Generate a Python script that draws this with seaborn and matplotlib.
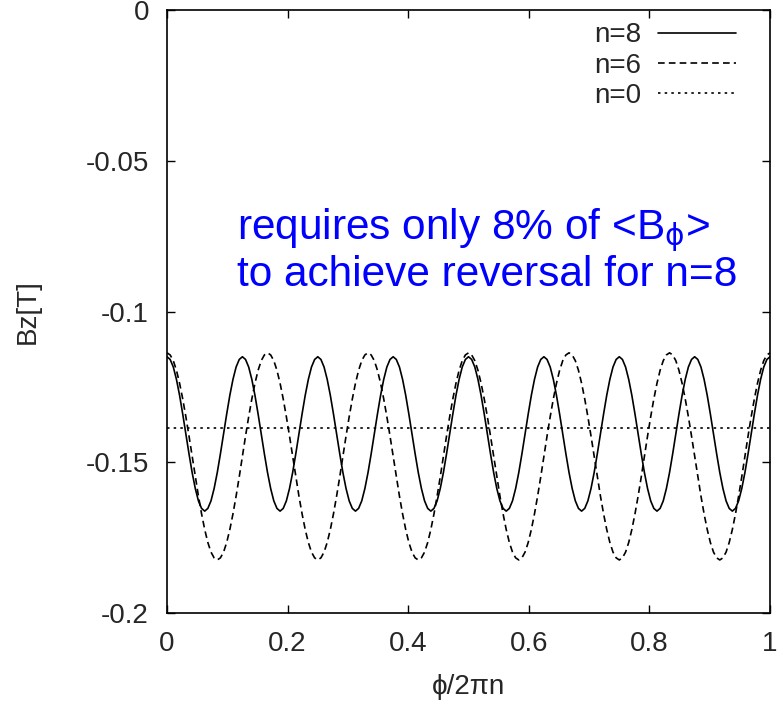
import matplotlib
matplotlib.use('agg')

import numpy as np
import pandas as pd
import matplotlib.pyplot as plt
import matplotlib.transforms as trans
import seaborn as sns

bz_n8 = [
    -0.1150, -0.1159, -0.1184, -0.1225, -0.1278, -0.1340, -0.1406, -0.1472, -0.1534, -0.1587, -0.1628, -0.1653,
    -0.1662, -0.1653, -0.1628, -0.1587, -0.1534, -0.1472, -0.1406, -0.1340, -0.1278, -0.1225, -0.1184, -0.1159,
    -0.1150, -0.1159, -0.1184, -0.1225, -0.1278, -0.1340, -0.1406, -0.1472, -0.1534, -0.1587, -0.1628, -0.1653,
    -0.1662, -0.1653, -0.1628, -0.1587, -0.1534, -0.1472, -0.1406, -0.1340, -0.1278, -0.1225, -0.1184, -0.1159,
    -0.1150, -0.1159, -0.1184, -0.1225, -0.1278, -0.1340, -0.1406, -0.1472, -0.1534, -0.1587, -0.1628, -0.1653,
    -0.1662, -0.1653, -0.1628, -0.1587, -0.1534, -0.1472, -0.1406, -0.1340, -0.1278, -0.1225, -0.1184, -0.1159,
    -0.1150, -0.1159, -0.1184, -0.1225, -0.1278, -0.1340, -0.1406, -0.1472, -0.1534, -0.1587, -0.1628, -0.1653,
    -0.1662, -0.1653, -0.1628, -0.1587, -0.1534, -0.1472, -0.1406, -0.1340, -0.1278, -0.1225, -0.1184, -0.1159,
    -0.1150, -0.1159, -0.1184, -0.1225, -0.1278, -0.1340, -0.1406, -0.1472, -0.1534, -0.1587, -0.1628, -0.1653,
    -0.1662, -0.1653, -0.1628, -0.1587, -0.1534, -0.1472, -0.1406, -0.1340, -0.1278, -0.1225, -0.1184, -0.1159,
    -0.1150, -0.1159, -0.1184, -0.1225, -0.1278, -0.1340, -0.1406, -0.1472, -0.1534, -0.1587, -0.1628, -0.1653,
    -0.1662, -0.1653, -0.1628, -0.1587, -0.1534, -0.1472, -0.1406, -0.1340, -0.1278, -0.1225, -0.1184, -0.1159,
    -0.1150, -0.1159, -0.1184, -0.1225, -0.1278, -0.1340, -0.1406, -0.1472, -0.1534, -0.1587, -0.1628, -0.1653,
    -0.1662, -0.1653, -0.1628, -0.1587, -0.1534, -0.1472, -0.1406, -0.1340, -0.1278, -0.1225, -0.1184, -0.1159,
    -0.1150, -0.1159, -0.1184, -0.1225, -0.1278, -0.1340, -0.1406, -0.1472, -0.1534, -0.1587, -0.1628, -0.1653,
    -0.1662, -0.1653, -0.1628, -0.1587, -0.1534, -0.1472, -0.1406, -0.1340, -0.1278, -0.1225, -0.1184, -0.1159,
    -0.1150,
]
bz_n6 = [
    -0.1137, -0.1144, -0.1163, -0.1195, -0.1238, -0.1290, -0.1349, -0.1413, -0.1480, -0.1548, -0.1612, -0.1671, -0.1723, -0.1766, -0.1798, -0.1817,
    -0.1824, -0.1817, -0.1798, -0.1766, -0.1723, -0.1671, -0.1612, -0.1548, -0.1480, -0.1413, -0.1349, -0.1290, -0.1238, -0.1195, -0.1163, -0.1144,
    -0.1137, -0.1144, -0.1163, -0.1195, -0.1238, -0.1290, -0.1349, -0.1413, -0.1480, -0.1548, -0.1612, -0.1671, -0.1723, -0.1766, -0.1798, -0.1817,
    -0.1824, -0.1817, -0.1798, -0.1766, -0.1723, -0.1671, -0.1612, -0.1548, -0.1480, -0.1413, -0.1349, -0.1290, -0.1238, -0.1195, -0.1163, -0.1144,
    -0.1137, -0.1144, -0.1163, -0.1195, -0.1238, -0.1290, -0.1349, -0.1413, -0.1480, -0.1548, -0.1612, -0.1671, -0.1723, -0.1766, -0.1798, -0.1817,
    -0.1824, -0.1817, -0.1798, -0.1766, -0.1723, -0.1671, -0.1612, -0.1548, -0.1480, -0.1413, -0.1349, -0.1290, -0.1238, -0.1195, -0.1163, -0.1144,
    -0.1137, -0.1144, -0.1163, -0.1195, -0.1238, -0.1290, -0.1349, -0.1413, -0.1480, -0.1548, -0.1612, -0.1671, -0.1723, -0.1766, -0.1798, -0.1817,
    -0.1824, -0.1817, -0.1798, -0.1766, -0.1723, -0.1671, -0.1612, -0.1548, -0.1480, -0.1413, -0.1349, -0.1290, -0.1238, -0.1195, -0.1163, -0.1144,
    -0.1137, -0.1144, -0.1163, -0.1195, -0.1238, -0.1290, -0.1349, -0.1413, -0.1480, -0.1548, -0.1612, -0.1671, -0.1723, -0.1766, -0.1798, -0.1817,
    -0.1824, -0.1817, -0.1798, -0.1766, -0.1723, -0.1671, -0.1612, -0.1548, -0.1480, -0.1413, -0.1349, -0.1290, -0.1238, -0.1195, -0.1163, -0.1144,
    -0.1137, -0.1144, -0.1163, -0.1195, -0.1238, -0.1290, -0.1349, -0.1413, -0.1480, -0.1548, -0.1612, -0.1671, -0.1723, -0.1766, -0.1798, -0.1817,
    -0.1824, -0.1817, -0.1798, -0.1766, -0.1723, -0.1671, -0.1612, -0.1548, -0.1480, -0.1413, -0.1349, -0.1290, -0.1238, -0.1195, -0.1163, -0.1144,
    -0.1137,
]
phi = np.linspace(0, 1, len(bz_n8))

n0_phi = [0.0, 1.0]
bz_n0 = [-0.1387, -0.1387]

series_labels = ["n=8", "n=6", "n=0"]
xticks = [0, 0.2, 0.4, 0.6, 0.8, 1]
xtick_labels = ["0", "0.2", "0.4", "0.6", "0.8", "1"]
yticks = [-0.2, -0.15, -0.1, -0.05, 0]
ytick_labels = ["-0.2", "-0.15", "-0.1", "-0.05", "0"]

sns.set_style('ticks')
plt.rcParams['font.family'] = ['Liberation Sans', 'DejaVu Sans']
plt.rcParams['axes.unicode_minus'] = False
plt.rcParams['mathtext.fontset'] = 'custom'
plt.rcParams['mathtext.rm'] = 'DejaVu Sans'

fig = plt.figure(figsize=(7.79, 7.01), dpi=100)
ax = fig.add_axes([0.2144, 0.1255, 0.7741, 0.8602])

styles = ['-', (0, (4, 2.5)), (0, (1.5, 2.5))]
data = [(phi, bz_n8), (phi, bz_n6), (n0_phi, bz_n0)]
for (x, y), lab, ls in zip(data, series_labels, styles):
    df = pd.DataFrame({'phi': x, 'Bz': y})
    sns.lineplot(data=df, x='phi', y='Bz', ax=ax, color='black', lw=1.2,
                 linestyle=ls, label=lab)

ax.set_xlim(0, 1)
ax.set_ylim(-0.2, 0)
ax.set_xticks(xticks)
ax.set_xticklabels(xtick_labels)
ax.set_yticks(yticks)
ax.set_yticklabels(ytick_labels)
ax.tick_params(direction='in', length=6, width=1, top=True, right=True,
               labelsize=20, pad=13, color='black')
for sp in ax.spines.values():
    sp.set_linewidth(1.2)
    sp.set_color('black')

ax.set_xlabel("\u03d5/2\u03c0n", fontsize=20, labelpad=12)
ax.set_ylabel("Bz[T]", fontsize=20, labelpad=32)

handles, labels = ax.get_legend_handles_labels()
ax.legend(handles, labels, loc='upper right', bbox_to_anchor=(0.985, 1.021),
          markerfirst=False, frameon=False, fontsize=20, handlelength=2.8,
          handletextpad=0.6, labelspacing=0.15)

# annotation, x in axes fraction, y in data units
tr = trans.blended_transform_factory(ax.transAxes, ax.transData)
ax.text(0.116, -0.0760, r"requires only 8% of <B$_{\mathrm{\phi}}$>", color='#0000ff',
        fontsize=30.5, va='baseline', transform=tr)
ax.text(0.116, -0.0915, "to achieve reversal for n=8", color='#0000ff',
        fontsize=30.5, va='baseline', transform=tr)

fig.savefig("out.png", dpi=100)
